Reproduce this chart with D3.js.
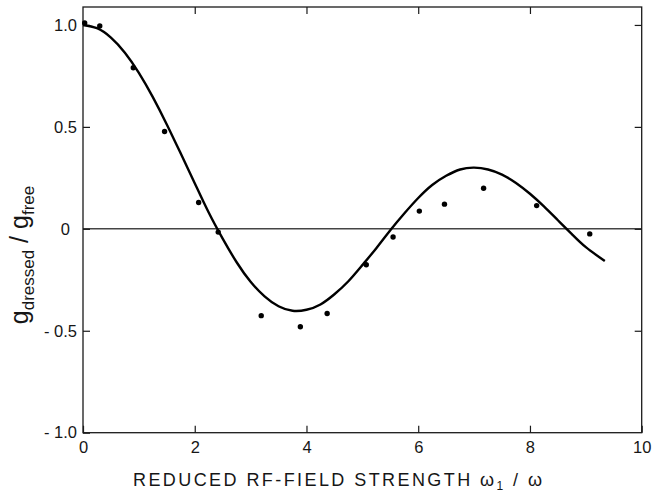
<!DOCTYPE html>
<html>
<head>
<meta charset="utf-8">
<script src="https://cdn.jsdelivr.net/npm/d3@7"></script>
<style>
  body { margin: 0; background: #fff; }
  text { font-family: "Liberation Sans", "DejaVu Sans", sans-serif; fill: #161616; }
</style>
</head>
<body>
<div id="chart-area"></div>
<script>
// Data
// ****
const curveX = [0, 0.25, 0.5, 0.75, 1.0, 1.25, 1.5, 1.75, 2.0, 2.25, 2.5, 2.75, 3.0, 3.25, 3.5, 3.75, 4.0, 4.25, 4.5, 4.75, 5.0, 5.25, 5.5, 5.75, 6.0, 6.25, 6.5, 6.75, 7.0, 7.25, 7.5, 7.75, 8.0, 8.25, 8.5, 8.75, 9.0, 9.34]
const curveY = [1.0, 0.984, 0.938, 0.864, 0.765, 0.646, 0.512, 0.369, 0.224, 0.080, -0.048, -0.164, -0.260, -0.331, -0.380, -0.402, -0.397, -0.371, -0.321, -0.257, -0.178, -0.095, -0.007, 0.075, 0.151, 0.215, 0.260, 0.291, 0.300, 0.291, 0.266, 0.225, 0.172, 0.110, 0.042, -0.026, -0.090, -0.158]

const dotX = [0.03, 0.30, 0.90, 1.46, 2.07, 2.42, 3.19, 3.89, 4.37, 5.07, 5.55, 6.02, 6.47, 7.17, 8.12, 9.07]
const dotY = [1.01, 0.995, 0.79, 0.477, 0.129, -0.016, -0.426, -0.48, -0.415, -0.176, -0.04, 0.087, 0.121, 0.199, 0.114, -0.025]

const xTicks = [0, 2, 4, 6, 8, 10]
const yTicks = [-1.0, -0.5, 0, 0.5, 1.0]
const yTickLabels = ["- 1.0", "- 0.5", "0", "0.5", "1.0"]

// Config
// ******
const W = 656, H = 496
const margin = {top: 7, right: 14.3, bottom: 63.3, left: 83}
const width = W - margin.left - margin.right
const height = H - margin.top - margin.bottom
const ink = "#1a1a1a"

const svg = d3.select("#chart-area").append("svg")
  .attr("width", W).attr("height", H)

const g = svg.append("g")
  .attr("transform", "translate(" + margin.left + ", " + margin.top + ")")

const x = d3.scaleLinear().domain([0, 10]).range([0, width])
const y = d3.scaleLinear().domain([-1.0, 1.088]).range([height, 0])

// Zero line
g.append("line")
  .attr("x1", 0).attr("x2", width)
  .attr("y1", y(0)).attr("y2", y(0))
  .attr("stroke", "#444").attr("stroke-width", 1.4)

// Frame
g.append("rect")
  .attr("width", width).attr("height", height)
  .attr("fill", "none").attr("stroke", ink).attr("stroke-width", 1.3)

// Axes
const styleAxis = sel => {
  sel.select(".domain").remove()
  sel.selectAll("line").attr("stroke", ink).attr("stroke-width", 1.2)
  sel.selectAll("text").style("font-size", "16.5px").attr("fill", ink)
}

g.append("g")
  .attr("transform", "translate(0, " + height + ")")
  .call(d3.axisBottom(x).tickValues(xTicks).tickFormat(d3.format("d")).tickSizeInner(-7).tickSizeOuter(0).tickPadding(9))
  .call(styleAxis)

g.append("g")
  .call(d3.axisTop(x).tickValues(xTicks.slice(1, -1)).tickFormat("").tickSizeInner(-7).tickSizeOuter(0))
  .call(styleAxis)

g.append("g")
  .call(d3.axisLeft(y).tickValues(yTicks).tickFormat((d, i) => yTickLabels[i]).tickSizeInner(-7).tickSizeOuter(0).tickPadding(6))
  .call(styleAxis)
  .call(a => a.selectAll(".tick text").filter(d => d === 0).attr("dx", -7))

g.append("g")
  .attr("transform", "translate(" + width + ", 0)")
  .call(d3.axisRight(y).tickValues(yTicks.slice(1)).tickFormat("").tickSizeInner(-7).tickSizeOuter(0))
  .call(styleAxis)

// Curve
const line = d3.line()
  .x(d => x(d[0]))
  .y(d => y(d[1]))
  .curve(d3.curveNatural)

g.append("path")
  .datum(curveX.map((v, i) => [v, curveY[i]]))
  .attr("d", line)
  .attr("fill", "none")
  .attr("stroke", "#000")
  .attr("stroke-width", 2.4)
  .attr("stroke-linejoin", "round")

// Dots
g.selectAll("circle.dot")
  .data(dotX.map((v, i) => [v, dotY[i]]))
  .enter().append("circle")
    .attr("class", "dot")
    .attr("cx", d => x(d[0]))
    .attr("cy", d => y(d[1]))
    .attr("r", 2.7)
    .attr("fill", "#000")

// Labels
// ******
svg.append("text")
  .attr("x", 133).attr("y", 486)
  .attr("textLength", 409)
  .attr("lengthAdjust", "spacing")
  .style("font-size", "18px")
  .html('REDUCED RF-FIELD STRENGTH  ω<tspan dy="4" style="font-size:12px">1</tspan><tspan dy="-4">  / ω</tspan>')

const yl = svg.append("text")
  .attr("transform", "translate(28, 255) rotate(-90)")
  .attr("text-anchor", "middle")
  .style("font-size", "25px")
yl.append("tspan").text("g")
yl.append("tspan").attr("dy", 6).style("font-size", "17px").text("dressed")
yl.append("tspan").attr("dy", -6).text(" / g")
yl.append("tspan").attr("dy", 6).style("font-size", "17px").text("free")
</script>
</body>
</html>
